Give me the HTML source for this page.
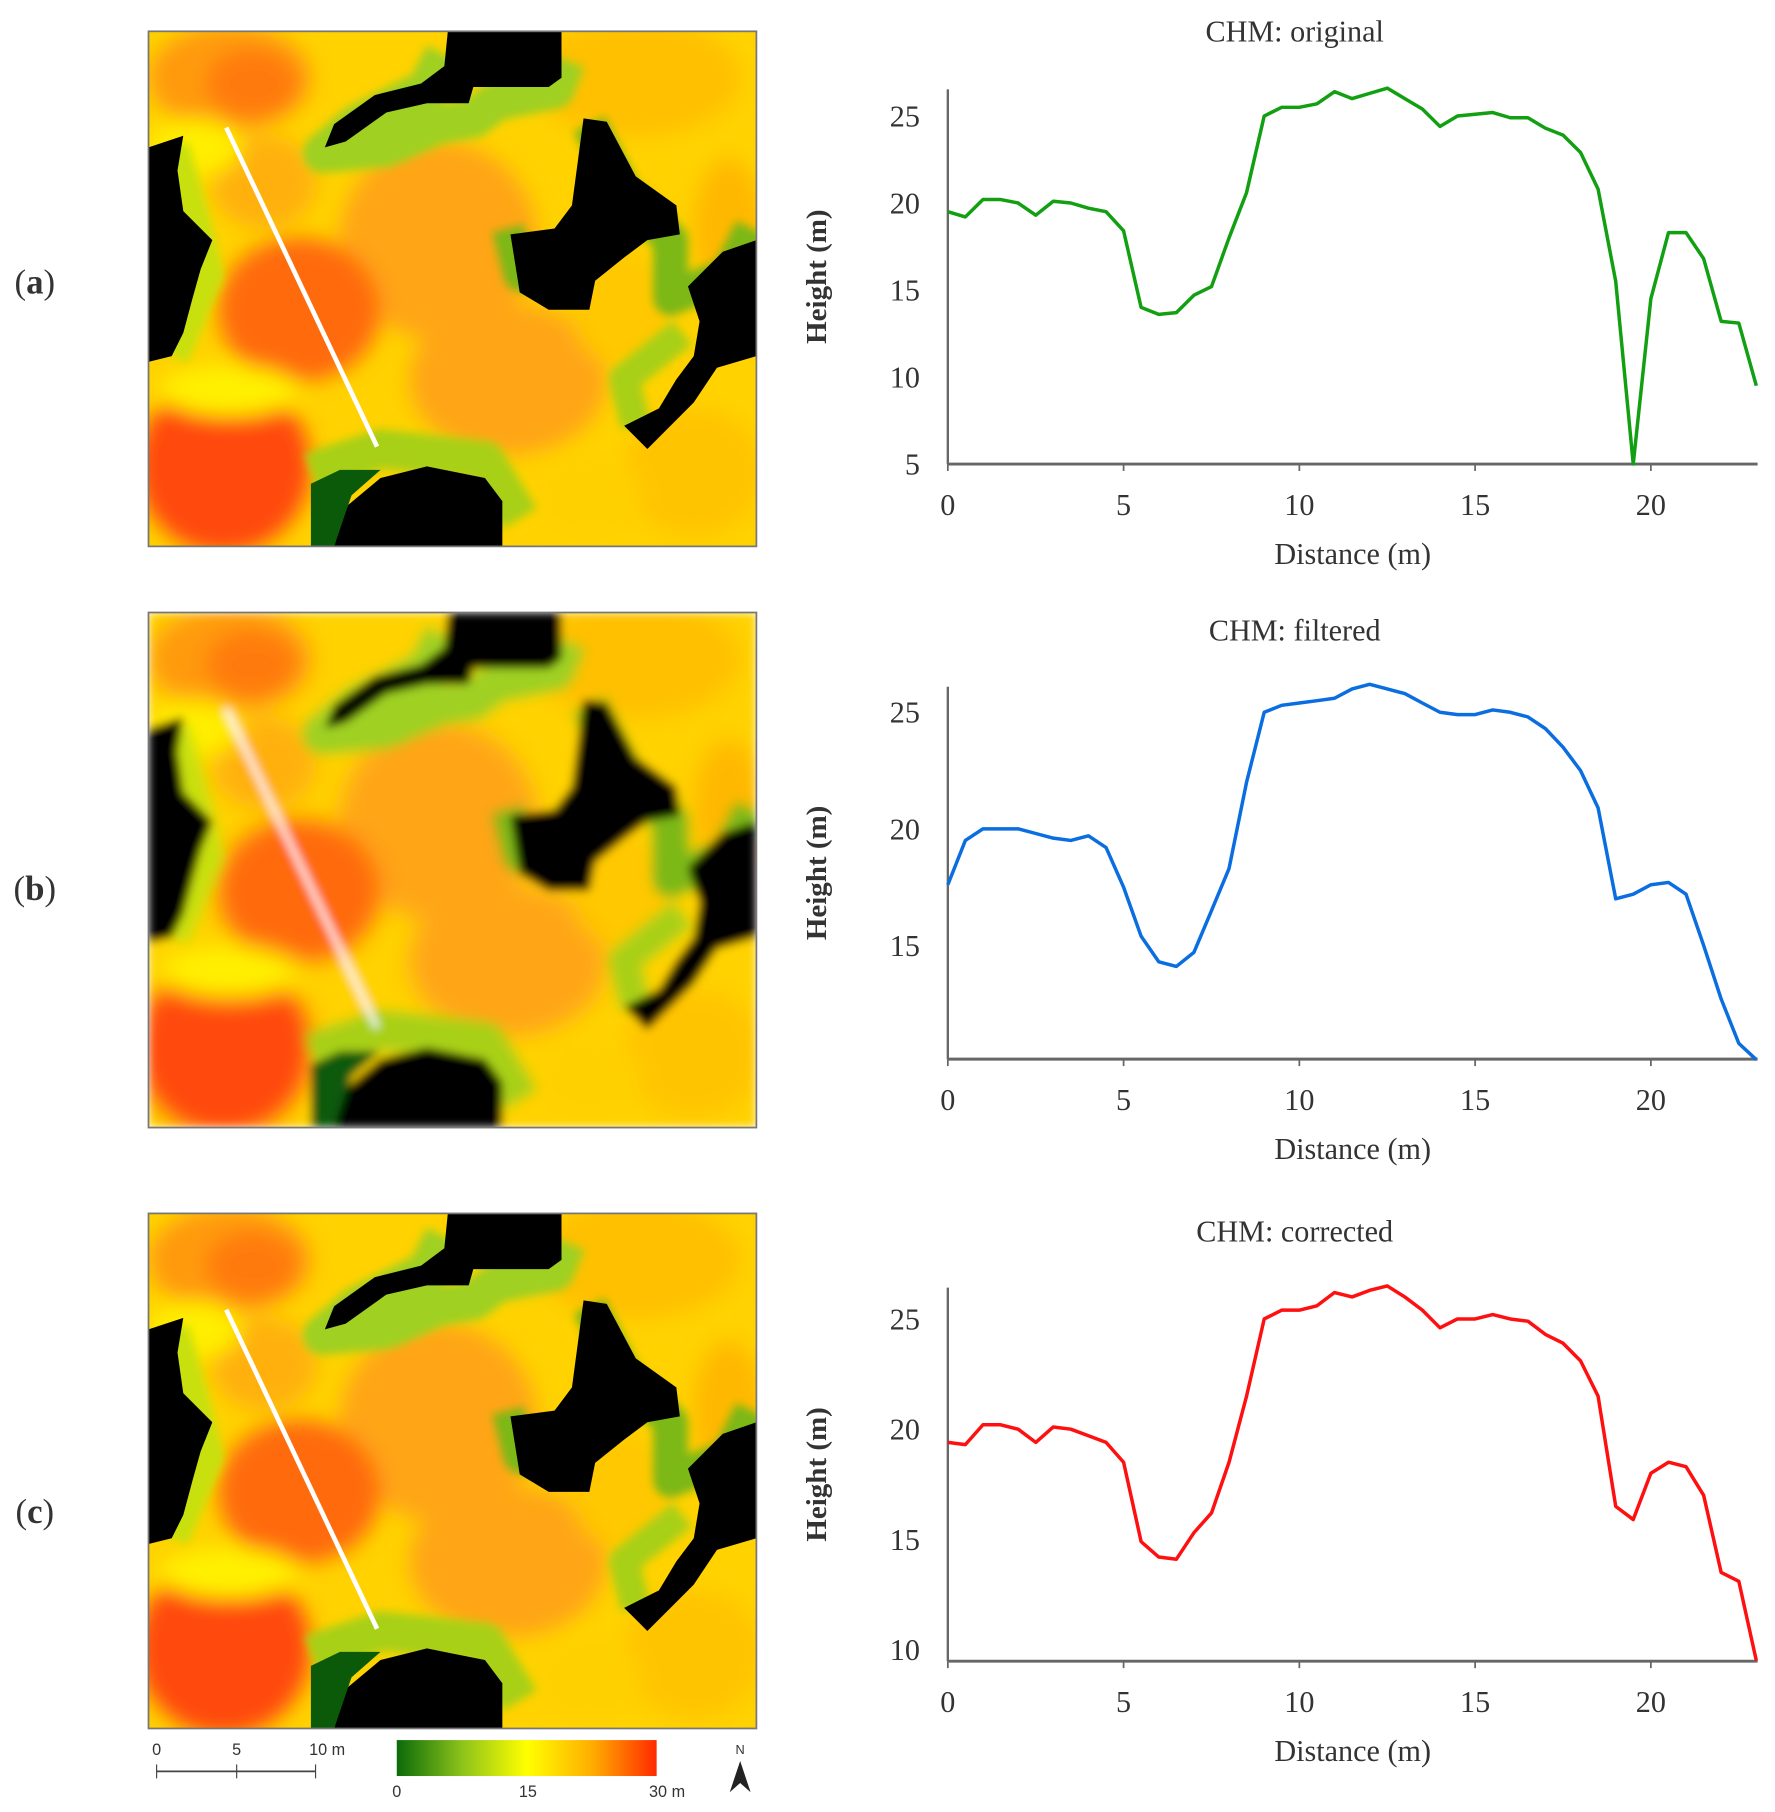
<!DOCTYPE html>
<html><head><meta charset="utf-8"><style>
html,body{margin:0;padding:0;background:#fff;}
svg{display:block;}
text{font-family:"Liberation Serif",serif;fill:#333;}
</style></head><body>
<svg id="root" width="1775" height="1812" viewBox="0 0 1530 1562" preserveAspectRatio="none" xmlns="http://www.w3.org/2000/svg" xmlns:xlink="http://www.w3.org/1999/xlink">
<defs>
 <filter id="bl" x="-20%" y="-20%" width="140%" height="140%"><feGaussianBlur stdDeviation="9"/></filter>
 <filter id="bl2"><feGaussianBlur stdDeviation="4"/></filter>
 <linearGradient id="cb" x1="0" x2="1" y1="0" y2="0">
  <stop offset="0" stop-color="#0a6a0a"/><stop offset="0.25" stop-color="#8cc21a"/><stop offset="0.5" stop-color="#ffff00"/><stop offset="0.75" stop-color="#ffae00"/><stop offset="1" stop-color="#ff2a00"/>
 </linearGradient>
 <clipPath id="mc"><rect x="0" y="0" width="524" height="444"/></clipPath>
 <g id="map">
  <g clip-path="url(#mc)">
   <rect width="524" height="444" fill="#ffd200"/>
   <g filter="url(#bl)">
    <ellipse cx="70" cy="40" rx="70" ry="45" fill="#ff9a10"/>
    <ellipse cx="90" cy="45" rx="40" ry="30" fill="#ff7a10"/>
    <ellipse cx="420" cy="40" rx="90" ry="50" fill="#ffc000"/>
    <ellipse cx="250" cy="180" rx="85" ry="85" fill="#ffa514"/>
    <ellipse cx="310" cy="300" rx="85" ry="65" fill="#ffa514"/>
    <ellipse cx="130" cy="240" rx="70" ry="62" fill="#ff6a10"/>
    <ellipse cx="65" cy="375" rx="75" ry="75" fill="#ff4a08"/>
    <ellipse cx="410" cy="240" rx="45" ry="50" fill="#ffc800"/>
    <ellipse cx="470" cy="380" rx="60" ry="55" fill="#ffc400"/>
    <ellipse cx="380" cy="400" rx="45" ry="35" fill="#ffd000"/>
    <ellipse cx="100" cy="130" rx="45" ry="40" fill="#ffb010"/>
    <ellipse cx="40" cy="100" rx="40" ry="25" fill="#ffee00"/>
    <ellipse cx="70" cy="310" rx="60" ry="22" fill="#fff000"/>
    <ellipse cx="500" cy="170" rx="30" ry="60" fill="#ffb800"/>
   </g>
   <g filter="url(#bl2)" fill="none" stroke-linejoin="round">
    <path d="M255,20 L240,50 L180,80 L150,105 L205,100 L250,80 L280,75 L300,60 L350,50 L360,25" stroke="#9fd020" stroke-width="34"/>
    <path d="M380,80 L410,140 L450,180 L450,230 L500,210 L520,170" stroke="#7cb818" stroke-width="30"/>
    <path d="M310,170 L320,210 L360,215" stroke="#7cb818" stroke-width="28"/>
    <path d="M20,100 L40,170 L50,210 L20,280" stroke="#c8e010" stroke-width="30"/>
    <path d="M140,380 L200,360 L290,370 L320,420" stroke="#a8d018" stroke-width="34"/>
    <path d="M420,340 L410,300 L460,260" stroke="#a8d018" stroke-width="26"/>
   </g>
   <path fill="#000" d="M258,0 L356,0 L356,40 L345,48 L280,48 L276,62 L240,62 L205,70 L170,95 L152,100 L160,80 L195,55 L235,45 L255,30 Z"/>
   <path fill="#000" d="M0,100 L30,90 L25,120 L30,155 L55,180 L45,205 L38,230 L30,260 L20,280 L0,285 Z"/>
   <path fill="#000" d="M375,75 L395,78 L420,125 L455,150 L458,175 L430,180 L410,195 L385,215 L380,240 L345,240 L320,225 L312,175 L350,170 L365,150 Z"/>
   <path fill="#000" d="M465,220 L495,190 L524,180 L524,280 L490,290 L470,320 L450,340 L430,360 L410,340 L440,325 L455,300 L470,280 L475,250 Z"/>
   <path fill="#000" d="M160,444 L170,410 L200,385 L240,375 L290,385 L305,405 L305,444 Z"/>
   <path fill="#0a5a0a" d="M140,444 L140,390 L165,378 L200,378 L175,400 L160,444 Z"/>
  </g>
  <line x1="67" y1="83" x2="197" y2="358" stroke="#fff" stroke-width="4"/>
 </g>
</defs>

<g transform="translate(128,27)"><use xlink:href="#map"/><rect width="524" height="444" fill="none" stroke="#777" stroke-width="1.5"/></g>
<g transform="translate(128,528)"><g clip-path="url(#mc)"><use xlink:href="#map" filter="url(#bl2)"/></g><rect width="524" height="444" fill="none" stroke="#777" stroke-width="1.5"/></g>
<g transform="translate(128,1046)"><use xlink:href="#map"/><rect width="524" height="444" fill="none" stroke="#777" stroke-width="1.5"/></g>

<text x="30" y="253" font-size="30" text-anchor="middle">(<tspan font-weight="bold">a</tspan>)</text>
<text x="30" y="776" font-size="30" text-anchor="middle">(<tspan font-weight="bold">b</tspan>)</text>
<text x="30" y="1313" font-size="30" text-anchor="middle">(<tspan font-weight="bold">c</tspan>)</text>

<g>
 <line x1="135" y1="1527" x2="272" y2="1527" stroke="#444" stroke-width="1.5"/>
 <line x1="135" y1="1521" x2="135" y2="1533" stroke="#444"/><line x1="204" y1="1521" x2="204" y2="1533" stroke="#444"/><line x1="272" y1="1521" x2="272" y2="1533" stroke="#444"/>
 <text x="135" y="1513" font-size="14" text-anchor="middle" style="font-family:'Liberation Sans',sans-serif">0</text>
 <text x="204" y="1513" font-size="14" text-anchor="middle" style="font-family:'Liberation Sans',sans-serif">5</text>
 <text x="282" y="1513" font-size="14" text-anchor="middle" style="font-family:'Liberation Sans',sans-serif">10 m</text>
</g>
<g>
 <rect x="342" y="1500" width="224" height="31" fill="url(#cb)"/>
 <text x="342" y="1549" font-size="14" text-anchor="middle" style="font-family:'Liberation Sans',sans-serif">0</text>
 <text x="455" y="1549" font-size="14" text-anchor="middle" style="font-family:'Liberation Sans',sans-serif">15</text>
 <text x="575" y="1549" font-size="14" text-anchor="middle" style="font-family:'Liberation Sans',sans-serif">30 m</text>
</g>
<g>
 <text x="638" y="1512" font-size="11" text-anchor="middle" style="font-family:'Liberation Sans',sans-serif">N</text>
 <path d="M638,1518 L629,1545 L638,1537 L647,1545 Z" fill="#222"/>
</g>

<g id="charts"></g>
</svg>
<script>
const distances = [0,0.5,1,1.5,2,2.5,3,3.5,4,4.5,5,5.5,6,6.5,7,7.5,8,8.5,9,9.5,10,10.5,11,11.5,12,12.5,13,13.5,14,14.5,15,15.5,16,16.5,17,17.5,18,18.5,19,19.5,20,20.5,21,21.5,22,22.5,23];
const originalHeights = [19.5,19.2,20.2,20.2,20.0,19.3,20.1,20.0,19.7,19.5,18.4,14.0,13.6,13.7,14.7,15.2,18.0,20.6,25.0,25.5,25.5,25.7,26.4,26.0,26.3,26.6,26.0,25.4,24.4,25.0,25.1,25.2,24.9,24.9,24.3,23.9,22.9,20.8,15.5,5.0,14.5,18.3,18.3,16.8,13.2,13.1,9.5];
const filteredHeights = [17.6,19.5,20.0,20.0,20.0,19.8,19.6,19.5,19.7,19.2,17.5,15.4,14.3,14.1,14.7,16.5,18.3,22.0,25.0,25.3,25.4,25.5,25.6,26.0,26.2,26.0,25.8,25.4,25.0,24.9,24.9,25.1,25.0,24.8,24.3,23.5,22.5,20.9,17.0,17.2,17.6,17.7,17.2,15.0,12.7,10.8,10.1];
const correctedHeights = [19.4,19.3,20.2,20.2,20.0,19.4,20.1,20.0,19.7,19.4,18.5,14.9,14.2,14.1,15.3,16.2,18.5,21.5,25.0,25.4,25.4,25.6,26.2,26.0,26.3,26.5,26.0,25.4,24.6,25.0,25.0,25.2,25.0,24.9,24.3,23.9,23.1,21.5,16.5,15.9,18.0,18.5,18.3,17.0,13.5,13.1,9.5];
const xTicks = [0,5,10,15,20];
const yTicksA = [5,10,15,20,25];
const yTicksB = [15,20,25];
const yTicksC = [10,15,20,25];
const titles = ["CHM: original","CHM: filtered","CHM: corrected"];

const NS = "http://www.w3.org/2000/svg";
const root = document.getElementById('charts');
function mk(tag, attrs, parent){const e=document.createElementNS(NS,tag);for(const k in attrs)e.setAttribute(k,attrs[k]);parent.appendChild(e);return e;}

const panels = [
 {vals:originalHeights, ticks:yTicksA, color:"#12a012", name:"original", top:77, yA:5, pA:400, yB:25, pB:100, base:400, titleY:36},
 {vals:filteredHeights, ticks:yTicksB, color:"#0a6ee0", name:"filtered", top:592, yA:15, pA:815, yB:25, pB:614, base:913, titleY:552},
 {vals:correctedHeights, ticks:yTicksC, color:"#ff1010", name:"corrected", top:1110, yA:10, pA:1422, yB:25, pB:1137, base:1432, titleY:1070}
];
panels.forEach((p,i)=>{
 const g = mk('g',{},root);
 
 
 const xs = d => 817 + d*(1423-817)/20;
 const ys = v => p.pA + (v-p.yA)*(p.pB-p.pA)/(p.yB-p.yA);
 const t = mk('text',{x:1116,y:p.titleY,'font-size':26,'text-anchor':'middle'},g);
 t.textContent = titles[i];
 
 
 const ya = mk('line',{x1:817,y1:p.top,x2:817,y2:p.base,stroke:'#666','stroke-width':2},g);
 
 
 const xa = mk('line',{x1:817,y1:p.base,x2:1515,y2:p.base,stroke:'#666','stroke-width':2.5},g);
 
 
 xTicks.forEach(v=>{
  mk('line',{x1:xs(v),y1:p.base,x2:xs(v),y2:p.base+6,stroke:'#666','stroke-width':1.5},g);
  const tl = mk('text',{x:xs(v),y:p.base+44,'font-size':26,'text-anchor':'middle'},g);
  tl.textContent = v;
  
  
 });
 p.ticks.forEach(v=>{
  const tl = mk('text',{x:793,y:ys(v)+9,'font-size':26,'text-anchor':'end'},g);
  tl.textContent = v;
  
  
 });
 const xt = mk('text',{x:1166,y:p.base+86,'font-size':26,'text-anchor':'middle'},g);
 xt.textContent = 'Distance (m)';
 
 
 const cy = (p.top+p.base)/2;
 const yt = mk('text',{x:712,y:cy,'font-size':25,'font-weight':'bold','text-anchor':'middle',transform:'rotate(-90 712 '+cy+')',fill:'#444'},g);
 yt.textContent = 'Height (m)';
 
 
 const pts = p.vals.map((v,k)=>xs(distances[k]).toFixed(1)+','+ys(v).toFixed(1)).join(' ');
 const ln = mk('polyline',{points:pts,fill:'none',stroke:p.color,'stroke-width':3,'stroke-linejoin':'round'},g);
 
 
});
</script>
</body></html>
